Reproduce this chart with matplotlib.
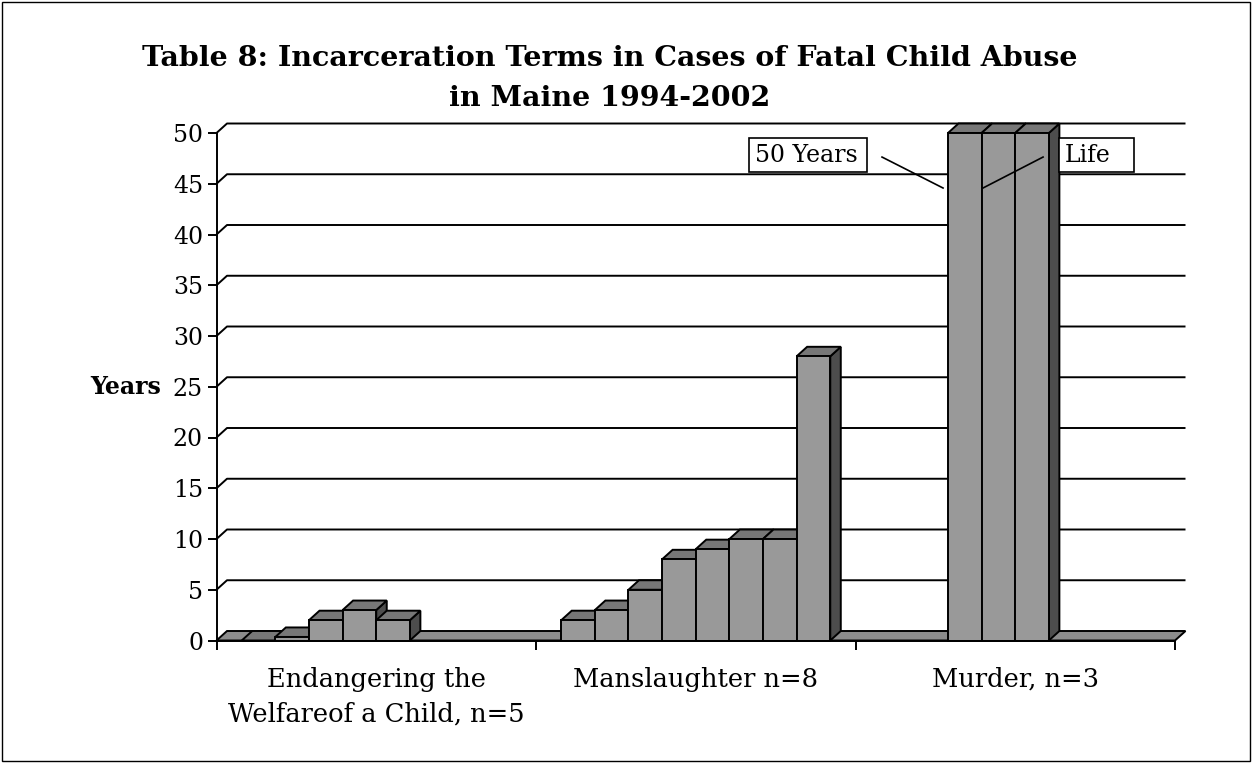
import numpy as np
import matplotlib
matplotlib.use("Agg")
import matplotlib.pyplot as plt
from matplotlib.patches import Polygon, Rectangle

# ---- data ----
categories = ["Endangering the\nWelfareof a Child, n=5", "Manslaughter n=8", "Murder, n=3"]
# years of incarceration per case; NaN = no case in that slot
endangering = [0, 0.35, 2, 3, 2, np.nan, np.nan, np.nan]
manslaughter = [2, 3, 5, 8, 9, 10, 10, 28]
murder = [np.nan, np.nan, 50, 50, 50, np.nan, np.nan, np.nan]
series_by_cat = [endangering, manslaughter, murder]
yticks = [0, 5, 10, 15, 20, 25, 30, 35, 40, 45, 50]
title_lines = ["Table 8: Incarceration Terms in Cases of Fatal Child Abuse", "in Maine 1994-2002"]
annotations = ["50 Years", "Life"]

FONT = "DejaVu Serif"
W, H = 1252, 763
fig = plt.figure(figsize=(W / 100, H / 100), dpi=100)
fig.patch.set_facecolor("white")

left, right, y0px, y50px = 216.5, 1175, 640.5, 133
ax = fig.add_axes([left / W, 1 - y0px / H, (right - left) / W, (y0px - y50px) / H])
ax.set_xlim(0, 3)
ax.set_ylim(0, 50)
ax.patch.set_alpha(0)

# depth offset (pixels -> data units)
dx = 10.5 / ((right - left) / 3)
dy = 9.5 / ((y0px - y50px) / 50)

nslots = 8
gap = 1.5
w = 1 / (nslots + gap)

front_c = "#999999"
top_c = "#777777"
side_c = "#4d4d4d"
floor_c = "#8c8c8c"
lw = 1.4

# gridlines on the back wall with slanted stubs on the left wall
for v in yticks[1:]:
    ax.plot([0, dx, 3 + dx], [v, v + dy, v + dy], color="black", lw=lw,
            clip_on=False, zorder=1, solid_capstyle="butt")

# floor
ax.add_patch(Polygon([(0, 0), (3, 0), (3 + dx, dy), (dx, dy)], closed=True,
                     facecolor=floor_c, edgecolor="black", lw=lw, clip_on=False, zorder=2))

# bars
z = 3
for c, vals in enumerate(series_by_cat):
    for k, v in enumerate(vals):
        if np.isnan(v):
            continue
        x0 = c + (gap / 2 + k) * w
        side = Polygon([(x0 + w, 0), (x0 + w + dx, dy), (x0 + w + dx, v + dy), (x0 + w, v)],
                       closed=True, facecolor=side_c, edgecolor="black", lw=lw,
                       clip_on=False, zorder=z)
        top = Polygon([(x0, v), (x0 + w, v), (x0 + w + dx, v + dy), (x0 + dx, v + dy)],
                      closed=True, facecolor=top_c, edgecolor="black", lw=lw,
                      clip_on=False, zorder=z)
        front = Rectangle((x0, 0), w, v, facecolor=front_c, edgecolor="black", lw=lw,
                          clip_on=False, zorder=z)
        ax.add_patch(side)
        ax.add_patch(top)
        ax.add_patch(front)
        z += 0.01

# axes styling
for s in ["top", "right"]:
    ax.spines[s].set_visible(False)
ax.spines["left"].set_linewidth(lw)
ax.spines["bottom"].set_linewidth(lw)
ax.spines["left"].set_zorder(10)
ax.spines["bottom"].set_zorder(10)

ax.set_yticks(yticks)
ax.set_yticklabels([str(t) for t in yticks], fontfamily=FONT, fontsize=17)
ax.tick_params(axis="y", direction="out", length=6.2, width=lw, pad=3.5)

ax.set_xticks([0, 1, 2, 3])
ax.set_xticklabels([])
ax.tick_params(axis="x", which="major", direction="out", length=6.5, width=lw)
ax.set_xticks([0.5, 1.5, 2.5], minor=True)
ax.set_xticklabels(categories, minor=True, fontfamily=FONT, fontsize=18.5,
                   verticalalignment="top")
ax.tick_params(axis="x", which="minor", length=0, pad=19)
for lab in ax.get_xticklabels(minor=True):
    lab.set_linespacing(1.5)

ax.set_ylabel("Years", fontfamily=FONT, fontsize=17, fontweight="bold",
              rotation=0, ha="center", va="center")
ax.yaxis.set_label_coords(-0.095, 25 / 50)

# annotation boxes with leader lines
box_kw = dict(facecolor="white", edgecolor="black", lw=1.2, clip_on=False, zorder=19)
ax.add_patch(Rectangle((1.667, 46.16), 2.036 - 1.667, 49.5 - 46.16, **box_kw))
ax.text(1.686, 47.83, annotations[0], fontfamily=FONT, fontsize=17, ha="left", va="center",
        zorder=20, clip_on=False)
ax.plot([2.083, 2.274], [47.63, 44.58], color="black", lw=1.2, zorder=20, clip_on=False)
ax.add_patch(Rectangle((2.637, 46.16), 2.872 - 2.637, 49.5 - 46.16, **box_kw))
ax.text(2.655, 47.83, annotations[1], fontfamily=FONT, fontsize=17, ha="left", va="center",
        zorder=20, clip_on=False)
ax.plot([2.587, 2.399], [47.63, 44.58], color="black", lw=1.2, zorder=20, clip_on=False)

# title
fig.text(610 / W, 1 - 58 / H, title_lines[0], fontfamily=FONT, fontsize=20.5,
         fontweight="bold", ha="center", va="center")
fig.text(610 / W, 1 - 98 / H, title_lines[1], fontfamily=FONT, fontsize=20.5,
         fontweight="bold", ha="center", va="center")

# outer border
fig.patches.append(Rectangle((2 / W, 2 / H), (W - 4) / W, (H - 4) / H, transform=fig.transFigure,
                             fill=False, edgecolor="black", lw=1.0))

fig.savefig("out.png", dpi=100)
